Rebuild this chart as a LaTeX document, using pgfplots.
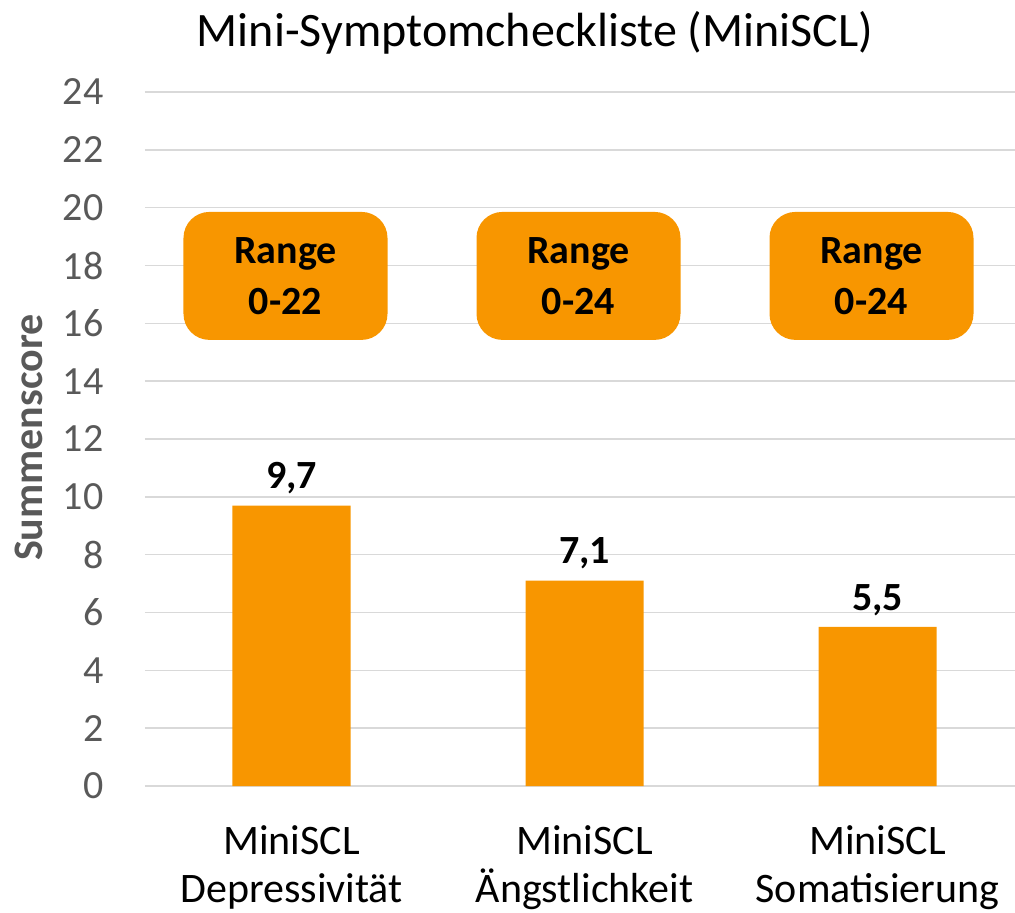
\documentclass[border=0pt]{standalone}
\usepackage{fontspec}
\setmainfont{Carlito}
\usepackage{pgfplots}
\pgfplotsset{compat=1.18}
\definecolor{barorange}{RGB}{248,150,0}
\definecolor{ticktext}{RGB}{89,89,89}
\definecolor{gridgray}{RGB}{217,217,217}
\begin{document}
\begin{tikzpicture}
\path[use as bounding box] (-145bp,-127bp) rectangle (870bp,786bp);
\begin{axis}[
  at={(0,0)}, anchor=south west,
  scale only axis,
  width=879bp, height=694bp,
  xmin=-0.5, xmax=2.5,
  ymin=0, ymax=24,
  ytick={0,2,...,24},
  xtick={0,1,2},
  xticklabels={MiniSCL\\Depressivität, MiniSCL\\Ängstlichkeit, MiniSCL\\Somatisierung},
  xticklabel style={align=center, font=\fontsize{42bp}{48bp}\selectfont, text=black, yshift=-36bp},
  yticklabel style={font=\fontsize{40bp}{48bp}\selectfont, text=ticktext, xshift=-38bp},
  /pgf/number format/assume math mode=true,
  axis line style={draw=none},
  major tick length=0pt,
  ymajorgrids,
  grid style={draw=gridgray, line width=1.6bp},
  ylabel={\bfseries Summenscore},
  ylabel style={font=\fontsize{42bp}{46bp}\selectfont, text=ticktext, at={(axis description cs:-0.132,0.502)}, anchor=center},
  title={Mini-Symptomcheckliste (MiniSCL)},
  title style={font=\fontsize{48bp}{56bp}\selectfont, at={(axis description cs:0.4437,1)}, anchor=base, yshift=40bp},
  clip=false,
]
\addplot[ybar, bar width=118bp, fill=barorange, draw=none,
  nodes near coords={\pgfmathprintnumber[use comma, fixed, precision=1, fixed zerofill]{\pgfplotspointmeta}},
  nodes near coords style={font=\bfseries\fontsize{40bp}{48bp}\selectfont, text=black, anchor=south, yshift=8bp},
  point meta=explicit]
  coordinates {(0,9.7) [9.7] (1,7.1) [7.1] (2,5.5) [5.5]};
\foreach \xx/\lab in {0/0-22, 1/0-24, 2/0-24}{
  \edef\tmp{\noexpand\node[fill=barorange, rounded corners=26bp, minimum width=204bp, minimum height=128bp, align=center, inner sep=0pt,
    font=\noexpand\bfseries\noexpand\fontsize{40bp}{51bp}\noexpand\selectfont, xshift=-6bp]
    at (axis cs:\xx,17.64) {Range\\\lab};}
  \tmp
}
\end{axis}
\end{tikzpicture}
\end{document}
